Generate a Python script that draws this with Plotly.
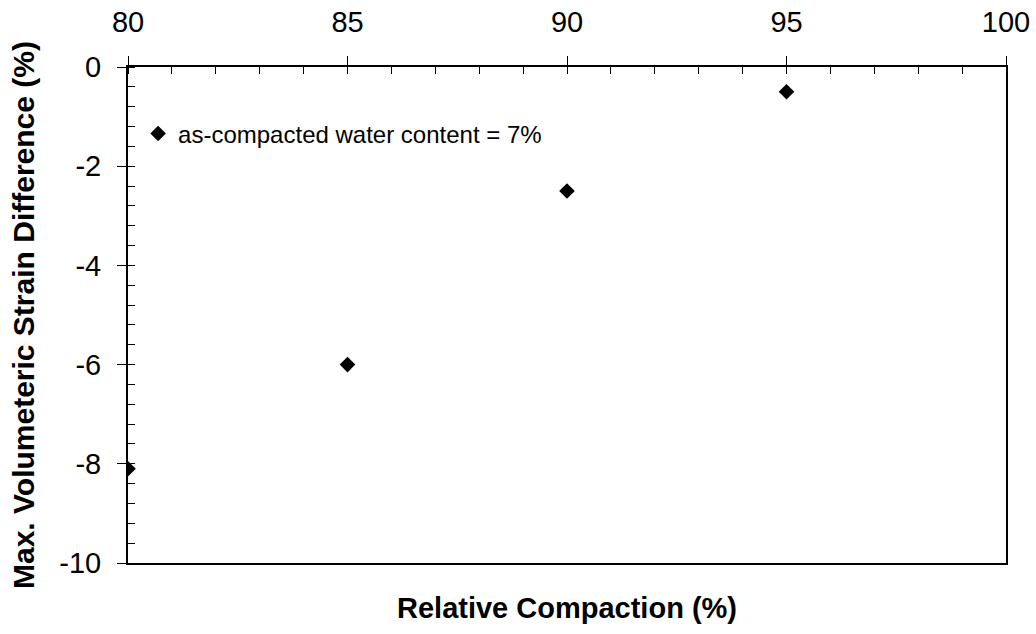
import plotly.graph_objects as go

compaction = [80, 85, 90, 95]
strain_diff = [-8.1, -6.0, -2.5, -0.5]
series_name = "as-compacted water content = 7%"

x_tickvals = [80, 85, 90, 95, 100]
x_ticktext = ["80", "85", "90", "95", "100"]
y_tickvals = [0, -2, -4, -6, -8, -10]
y_ticktext = ["0", "-2", "-4", "-6", "-8", "-10"]

fig = go.Figure()
fig.add_trace(go.Scatter(
    x=compaction, y=strain_diff, mode="markers", name=series_name,
    marker=dict(symbol="diamond", size=12, color="black"),
    showlegend=True,
))

fig.update_layout(
    width=1036, height=634,
    margin=dict(l=128, r=30, t=67, b=71, autoexpand=False),
    paper_bgcolor="white", plot_bgcolor="white",
    font=dict(family="Liberation Sans, Arial, sans-serif", color="black"),
    showlegend=True,
    legend=dict(x=0.0115, y=0.865, xanchor="left", yanchor="middle",
                bgcolor="rgba(0,0,0,0)", font=dict(size=24),
                itemwidth=30, tracegroupgap=0),
    xaxis=dict(
        side="top", range=[80, 100], automargin=False,
        tickvals=x_tickvals, ticktext=x_ticktext,
        showgrid=False, zeroline=False,
        showline=True, linecolor="black", linewidth=2, mirror=True,
        ticks="outside", ticklen=9, tickwidth=1, tickcolor="black",
        tickfont=dict(size=29), ticklabelstandoff=12,
        minor=dict(dtick=1, tick0=80, ticks="inside", ticklen=7, tickcolor="black", tickwidth=1, showgrid=False),
    ),
    yaxis=dict(
        range=[-10, 0], automargin=False,
        tickvals=y_tickvals, ticktext=y_ticktext,
        showgrid=False, zeroline=False,
        showline=True, linecolor="black", linewidth=2, mirror=True,
        ticks="outside", ticklen=9, tickwidth=1, tickcolor="black",
        tickfont=dict(size=29), ticklabelstandoff=10,
        minor=dict(dtick=0.4, tick0=0, ticks="inside", ticklen=7, tickcolor="black", tickwidth=1, showgrid=False),
    ),
)

fig.add_annotation(
    text="<b>Relative Compaction (%)</b>", xref="paper", yref="paper",
    x=0.5, y=-0.0907, xanchor="center", yanchor="middle", showarrow=False,
    font=dict(size=29),
)
fig.add_annotation(
    text="<b>Max. Volumeteric Strain Difference (%)</b>", xref="paper", yref="paper",
    x=-0.1196, y=0.5, xanchor="center", yanchor="middle", showarrow=False,
    textangle=-90, font=dict(size=30),
)

fig.write_html("out.html")
